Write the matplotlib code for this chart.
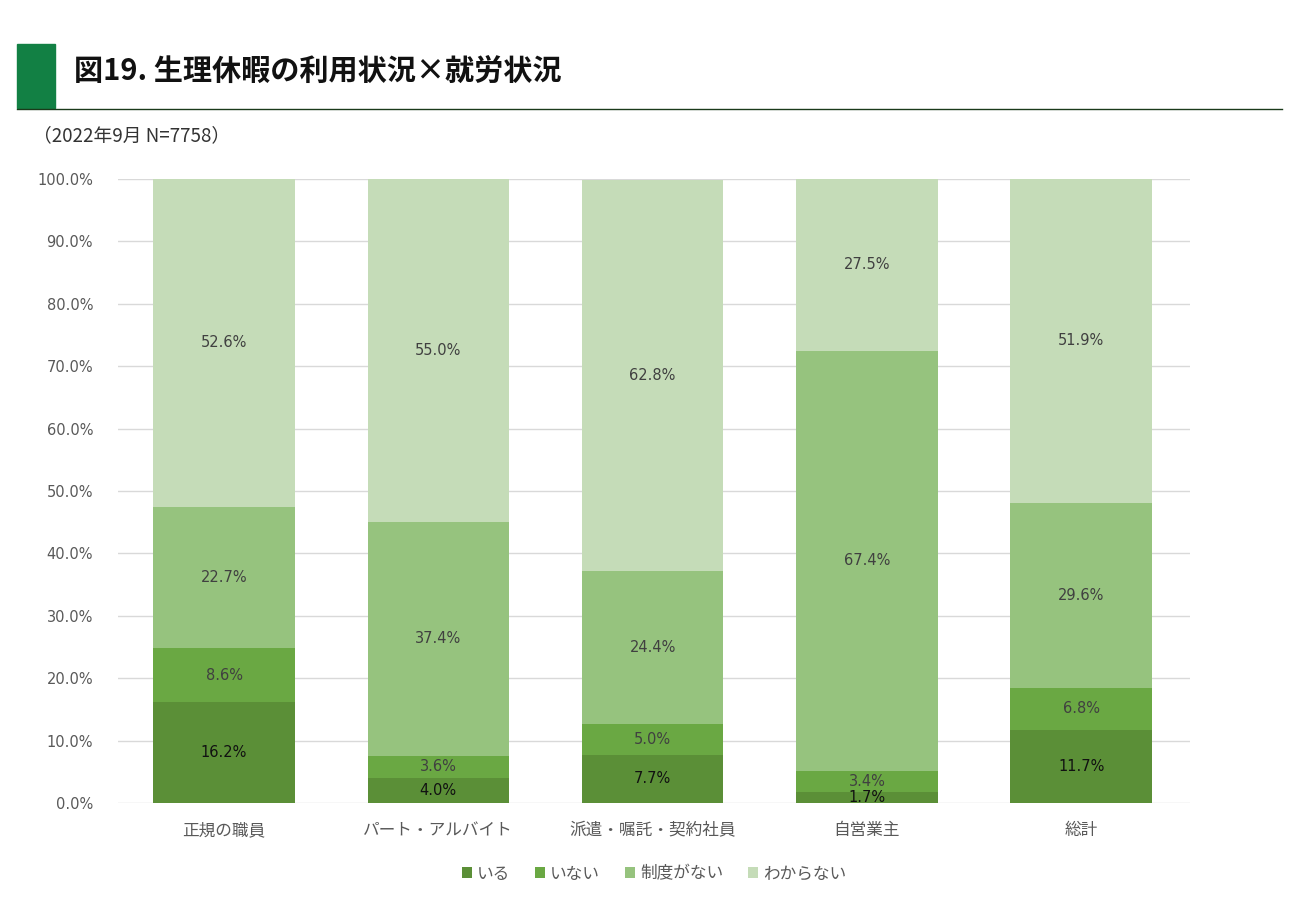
import matplotlib
matplotlib.use("Agg")
import matplotlib.pyplot as plt
import numpy as np
from matplotlib.patches import Rectangle
from matplotlib.lines import Line2D

plt.rcParams['font.family'] = ['Noto Sans CJK JP', 'DejaVu Sans']

categories = ['正規の職員', 'パート・アルバイト', '派遣・嘱託・契約社員', '自営業主', '総計']
series_names = ['いる', 'いない', '制度がない', 'わからない']
iru = [16.2, 4.0, 7.7, 1.7, 11.7]
inai = [8.6, 3.6, 5.0, 3.4, 6.8]
seido_nai = [22.7, 37.4, 24.4, 67.4, 29.6]
wakaranai = [52.6, 55.0, 62.8, 27.5, 51.9]
colors = ['#5b8f37', '#6aa843', '#96c37e', '#c5dcb8']
label_colors = ['#111111', '#404040', '#404040', '#404040']

fig = plt.figure(figsize=(13, 9), dpi=100)

# 見出し
fig.patches.append(Rectangle((17/1300, 1-108/900), 38/1300, 64/900,
                             transform=fig.transFigure, color='#128044'))
fig.lines.append(Line2D([17/1300, 1282/1300], [1-108.5/900, 1-108.5/900],
                        transform=fig.transFigure, color='#1a3a1a', lw=1))
fig.text(74/1300, 1-72/900, '図19. 生理休暇の利用状況×就労状況', fontsize=21,
         fontweight='bold', va='center', ha='left', color='#111111')
fig.text(33/1300, 1-136/900, '（2022年9月 N=7758）', fontsize=13.5,
         va='center', ha='left', color='#333333')

ax = fig.add_axes([118/1300, 97/900, 1072/1300, 624/900])
x = np.arange(len(categories))
bottom = np.zeros(len(categories))
for vals, name, c, lc in zip([iru, inai, seido_nai, wakaranai], series_names, colors, label_colors):
    vals = np.array(vals)
    ax.bar(x, vals, 0.66, bottom=bottom, color=c, label=name, zorder=3)
    for xi, b, v in zip(x, bottom, vals):
        ax.text(xi, b + v / 2, f'{v:.1f}%', ha='center', va='center',
                fontsize=10.5, color=lc, fontfamily='DejaVu Sans', zorder=4)
    bottom += vals

ax.set_ylim(0, 100)
ax.set_xlim(-0.495, 4.508)
ax.set_yticks(np.arange(0, 101, 10))
ax.set_yticklabels([f'{v:.1f}%' for v in range(0, 101, 10)], fontfamily='DejaVu Sans')
ax.set_xticks(x)
ax.set_xticklabels(categories)
ax.tick_params(axis='y', length=0, labelsize=10.5, colors='#595959', pad=18)
ax.tick_params(axis='x', length=0, labelsize=12, colors='#595959', pad=14)
ax.grid(axis='y', color='#d9d9d9', lw=1, zorder=0)
for s in ax.spines.values():
    s.set_visible(False)

ax.legend(loc='center', bbox_to_anchor=(0.5, -0.114), ncol=4, frameon=False,
          fontsize=12, handlelength=0.6, handleheight=0.6, handletextpad=0.3,
          columnspacing=1.5, labelcolor='#595959')

plt.savefig('out.png', dpi=100)
